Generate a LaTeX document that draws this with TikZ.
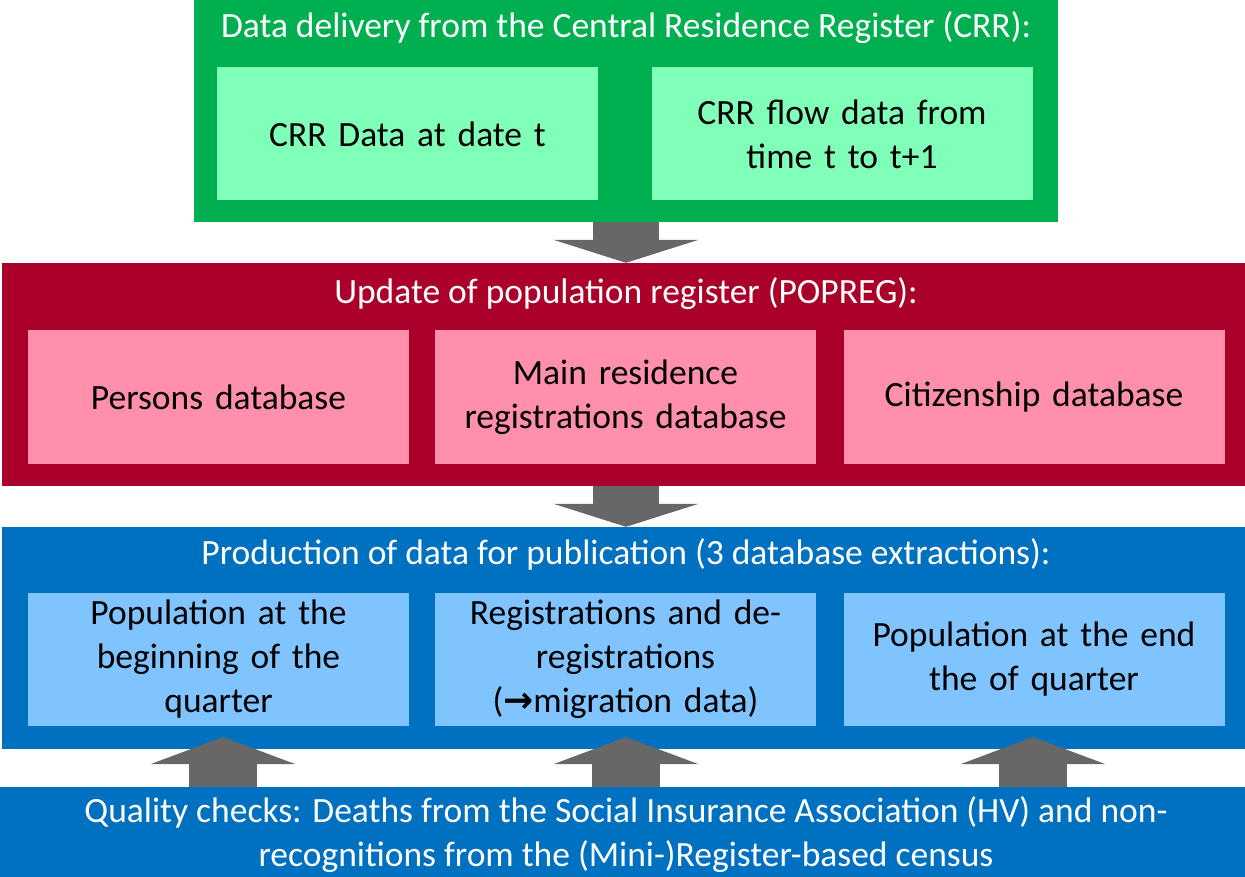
\documentclass[tikz,border=0pt]{standalone}
\usepackage{fontspec}
\setmainfont{Carlito}
\newfontfamily\arrowfont{DejaVu Sans}
\usetikzlibrary{arrows.meta}
\definecolor{gouter}{HTML}{00B050}
\definecolor{ginner}{HTML}{7FFFB8}
\definecolor{router}{HTML}{AA0029}
\definecolor{rinner}{HTML}{FF8FAB}
\definecolor{bouter}{HTML}{0070C0}
\definecolor{binner}{HTML}{7FC4FF}
\definecolor{arr}{HTML}{676767}
\begin{document}
\begin{tikzpicture}[x=1pt,y=-1pt,
  outer/.style={draw=none,inner sep=0pt,minimum width=#1},
  inbox/.style={inner sep=0pt,minimum width=381pt,minimum height=133pt,text width=375pt,align=center,font=\fontsize{35.5}{44}\selectfont,text=black},
  title/.style={inner sep=0pt,text=white,font=\fontsize{35.5}{44}\selectfont,align=center},
  blockarr/.style={draw=arr,line width=66pt,-{Triangle[width=145pt,length=23pt,line width=0pt]}},
  uparr/.style={draw=arr,line width=68pt,-{Triangle[width=144pt,length=27pt,line width=0pt]}}
]
\useasboundingbox[fill=white] (0,0) rectangle (1245,877);
% green
\node[outer=864pt,minimum height=222pt,fill=gouter] (green) at (626,111) {};
\node[title] (gtitle) at (626,28) {Data delivery from the Central Residence Register (CRR):};
\node[inbox,fill=ginner] (g1) at (407.5,134) {CRR Data at date t};
\node[inbox,fill=ginner] (g2) at (842,134) {CRR flow data from\\time t to t+1};
% red
\node[outer=1243pt,minimum height=223pt,fill=router] (red) at (623.5,374.5) {};
\node[title] (rtitle) at (626,294) {Update of population register (POPREG):};
\node[inbox,fill=rinner] (r1) at (218.5,397) {Persons database};
\node[inbox,fill=rinner] (r2) at (625.5,397) {Main residence\\registrations database};
\node[inbox,fill=rinner] (r3) at (1034,397) {\raisebox{-5pt}{Citizenship database}};
% blue
\node[outer=1243pt,minimum height=222pt,fill=bouter] (blue) at (623.5,638) {};
\node[title] (btitle) at (626,554) {Production of data for publication (3 database extractions):};
\node[inbox,fill=binner] (b1) at (218.5,659) {Population at the\\beginning of the\\quarter};
\node[inbox,fill=binner] (b2) at (625.5,659) {Registrations and de-\\registrations\\({\arrowfont\bfseries\fontsize{36}{44}\selectfont →}migration data)};
\node[inbox,fill=binner] (b3) at (1034,659) {Population at the end\\the of quarter};
% quality
\node[outer=1245pt,minimum height=90pt,fill=bouter] (qual) at (622.5,832) {};
\node[title] (qtitle) at (626,835) {Quality checks: Deaths from the Social Insurance Association (HV) and non-\\recognitions from the (Mini-)Register-based census};
% arrows
\coordinate (d1) at (626,0);
\coordinate (u1) at (223,737);
\coordinate (u2) at (626,737);
\coordinate (u3) at (1033,737);
\draw[blockarr] (green.south -| d1) -- (red.north -| d1);
\draw[blockarr] (red.south -| d1) -- (blue.north -| d1);
\draw[uparr] (qual.north -| u1) -- (u1);
\draw[uparr] (qual.north -| u2) -- (u2);
\draw[uparr] (qual.north -| u3) -- (u3);
\end{tikzpicture}
\end{document}
